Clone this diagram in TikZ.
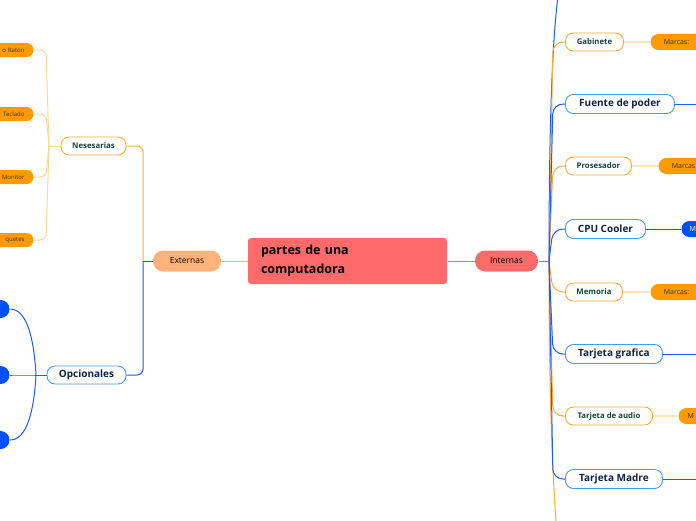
\documentclass[tikz,border=0pt]{standalone}
\usepackage{fontspec}
\setmainfont{Open Sans}
\definecolor{rootred}{HTML}{FF6B6B}
\definecolor{peach}{HTML}{FFB27A}
\definecolor{tagorange}{HTML}{FF9A00}
\definecolor{lnorange}{HTML}{FFAA33}
\definecolor{paleorange}{HTML}{FFE2B8}
\definecolor{softorange}{HTML}{FFD699}
\definecolor{tagblue}{HTML}{0050FF}
\definecolor{lnblue}{HTML}{1F5BFF}
\definecolor{rimblue}{HTML}{4A9BE0}
\definecolor{darkgreen}{HTML}{14463A}
\definecolor{navy}{HTML}{0E2244}

\begin{document}
\begin{tikzpicture}[x=1pt,y=-1pt,line width=1pt,
  pill/.style={rounded corners=8pt,inner sep=0pt,minimum height=18pt},
  opill/.style={pill,draw=lnorange,fill=white,line width=0.9pt,text=darkgreen,
    font=\bfseries\fontsize{7.8}{9}\selectfont},
  bpill/.style={pill,draw=rimblue,fill=white,line width=0.9pt,text=navy,
    minimum height=19pt,font=\bfseries\fontsize{10}{11}\selectfont},
  tag/.style={pill,fill=tagorange,minimum height=16pt,text=black!80,
    font=\fontsize{7}{8}\selectfont},
  btag/.style={tag,fill=tagblue,text=white}]
\useasboundingbox (0,0) rectangle (696,520);
% central topic
\node[fill=rootred,rounded corners=3pt,minimum width=199pt,minimum height=46pt,
  text width=173pt,inner xsep=13pt,align=left,
  font=\bfseries\fontsize{12.5}{19}\selectfont] (root) at (347.5,261)
  {partes de una\\computadora};
\node[pill,fill=peach,minimum width=68pt,minimum height=21pt,rounded corners=10pt,
  font=\fontsize{8.5}{10}\selectfont] (externas) at (187,261) {Externas};
\node[pill,fill=rootred,minimum width=63pt,minimum height=21pt,rounded corners=10pt,
  font=\fontsize{8.5}{10}\selectfont] (internas) at (506.5,261) {Internas};
\draw[peach] (root.west) -- (externas.east);
\draw[rootred] (root.east) -- (internas.west);

% left side
\node[opill,minimum width=65pt] (nes) at (93.5,146) {Nesesarias};
\node[bpill,minimum width=79pt,minimum height=18pt] (opc) at (86.5,375) {Opcionales};
\coordinate (lsplit) at (143,261);
\coordinate (nsplit) at (49,146);
\coordinate (osplit) at (36,375);
\draw[lnblue] (externas.west) -- (lsplit);
\draw[lnorange,rounded corners=6pt] (lsplit) |- (nes.east);
\draw[lnblue,rounded corners=6pt] (lsplit) |- (opc.east);
\draw[softorange] (nes.west) -- (nsplit);
\draw[lnblue] (opc.west) -- (osplit);
\foreach \y/\txt/\nm in {50/o Raton/raton,114/Teclado/teclado,177/Monitor/monitor,240/quetes/quetes} {
  \node[tag,anchor=east,minimum height=14pt,rounded corners=7pt,text width=66pt,
    inner xsep=9pt,align=right,font=\fontsize{6}{7}\selectfont] (\nm) at (34,\y) {\txt};
  \draw[softorange,rounded corners=6pt] (\nm.east) -- (46,\y) -- (nsplit);
}
\foreach \y/\nm in {309/opcA,375/opcB,440/opcC} {
  \node[btag,anchor=east,minimum width=40pt,minimum height=18pt,rounded corners=9pt] (\nm) at (10,\y) {};
  \draw[lnblue] (osplit) .. controls (34,{375+0.55*(\y-375)}) and (27,\y) .. (\nm.east);
}

% right side
\coordinate (rsplit) at (549,261);
\coordinate (rightedge) at (700,0);
\draw[lnorange] (internas.east) -- (rsplit);
\draw[lnblue,opacity=0.5] (internas.east) -- (rsplit);
\coordinate (topend) at (558,-4);
\coordinate (botend) at (556,524);
\draw[lnblue] (rsplit) .. controls (549,80) and (555,20) .. (topend);
\draw[lnorange] (rsplit) .. controls (549,440) and (555,500) .. (botend);
\foreach \y/\txt/\nm/\w/\mx in {42/Gabinete/gab/58/650,166/Prosesador/pros/66/658,
    292/Memoria/mem/57/650} {
  \node[opill,anchor=west,minimum width=\w pt] (\nm) at (565,\y) {\txt};
  \node[tag,anchor=west,minimum width=52pt] (\nm-tag) at (\mx,\y) {Marcas:};
  \draw[lnorange,rounded corners=10pt] (rsplit) -- (553,\y) -- (\nm.west);
  \draw[paleorange,line width=2.5pt] (\nm.east) -- (\nm-tag.west);
}
\node[opill,anchor=west,minimum width=87pt] (audio) at (565,416) {Tarjeta de audio};
\node[tag,anchor=west,minimum width=40pt,text width=22pt,inner xsep=9pt,align=left]
  (audio-tag) at (678,416) {M};
\draw[lnorange,rounded corners=10pt] (rsplit) -- (553,416) -- (audio.west);
\draw[paleorange,line width=2.5pt] (audio.east) -- (audio-tag.west);
\foreach \y/\txt/\nm/\w in {104/Fuente de poder/fuente/109,229/CPU Cooler/cooler/80,
    354/Tarjeta grafica/grafica/97,479/Tarjeta Madre/madre/97} {
  \node[bpill,anchor=west,minimum width=\w pt] (\nm) at (565,\y) {\txt};
  \draw[lnblue,rounded corners=10pt] (rsplit) -- (553,\y) -- (\nm.west);
}
\node[btag,anchor=west,minimum width=40pt,text width=24pt,inner xsep=8pt,align=left]
  (cooler-tag) at (681,229) {M};
\draw[lnblue] (cooler.east) -- (cooler-tag.west);
\foreach \nm in {fuente,grafica,madre}
  \draw[lnblue] (\nm.east) -- (\nm.east -| rightedge);
\end{tikzpicture}
\end{document}
